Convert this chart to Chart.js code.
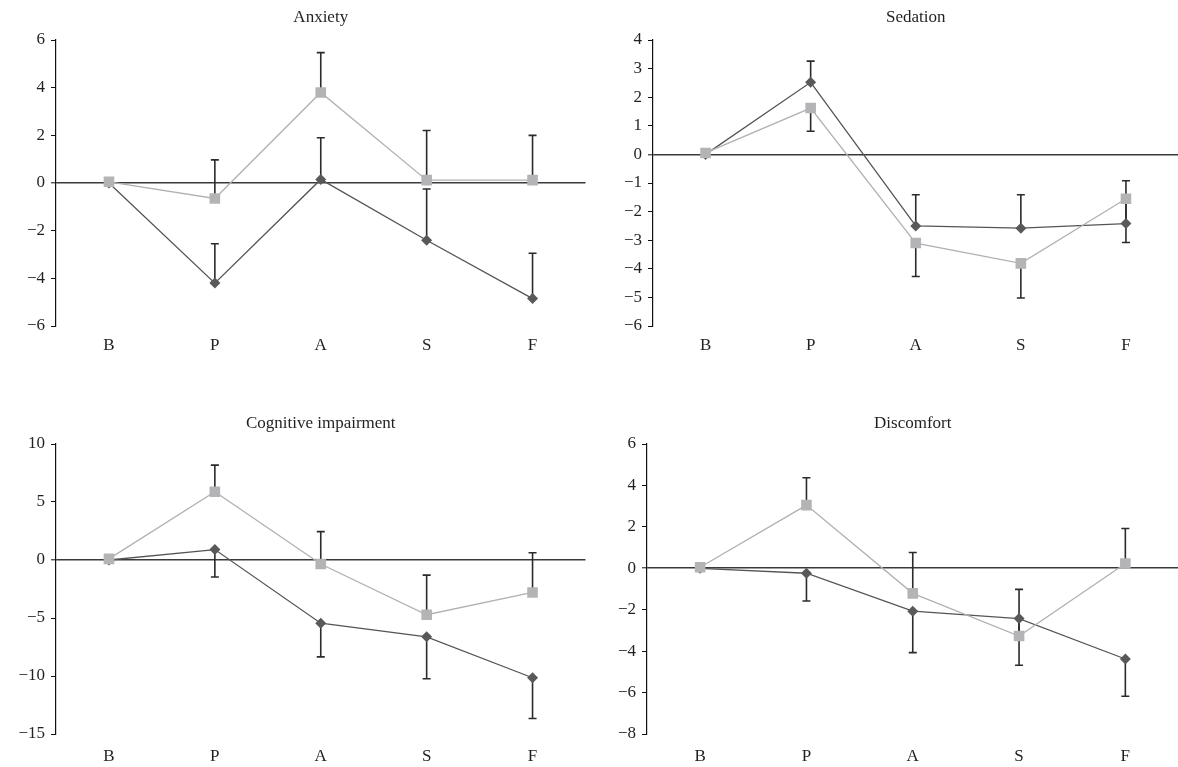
<!DOCTYPE html>
<html>
<head>
<meta charset="utf-8">
<script src="https://cdn.jsdelivr.net/npm/chart.js@4"></script>
<style>
	html, body { margin: 0; background: #fff; overflow: hidden; }
	.panel { position: absolute; }
</style>
</head>
<body>
<div class="panel" style="left:0;top:0;width:593px;height:383px"><canvas id="c1"></canvas></div>
<div class="panel" style="left:589px;top:0;width:597px;height:383px"><canvas id="c2"></canvas></div>
<div class="panel" style="left:0;top:383px;width:593px;height:384px"><canvas id="c3"></canvas></div>
<div class="panel" style="left:589px;top:383px;width:597px;height:384px"><canvas id="c4"></canvas></div>
<script>
const categories = ["B", "P", "A", "S", "F"];

const anxietyDark = [0, -4.2, 0.15, -2.4, -4.85];
const anxietyDarkErr = [0, 1.65, 1.75, 2.15, 1.9];
const anxietyLight = [0.05, -0.65, 3.8, 0.12, 0.12];
const anxietyLightErr = [0, 1.62, 1.67, 2.08, 1.88];

const sedationDark = [0, 2.52, -2.5, -2.58, -2.42];
const sedationDarkErr = [0, 0.74, 1.09, 1.17, 1.5];
const sedationLight = [0.05, 1.62, -3.1, -3.81, -1.55];
const sedationLightErr = [0, 0.81, 1.17, 1.21, 1.53];

const cognitiveDark = [0, 0.9, -5.45, -6.62, -10.15];
const cognitiveDarkErr = [0, 2.37, 2.9, 3.62, 3.52];
const cognitiveLight = [0.1, 5.88, -0.35, -4.72, -2.8];
const cognitiveLightErr = [0, 2.3, 2.8, 3.42, 3.43];

const discomfortDark = [0, -0.24, -2.07, -2.43, -4.38];
const discomfortDarkErr = [0, 1.34, 2.0, 2.25, 1.8];
const discomfortLight = [0.05, 3.05, -1.21, -3.27, 0.23];
const discomfortLightErr = [0, 1.32, 1.97, 2.25, 1.69];

const serif = "'Liberation Serif', 'DejaVu Serif', serif";
const textColor = "#231f20";

// error bars, one direction only, drawn under the markers
const errorBars = {
	id: "errorBars",
	beforeDatasetsDraw(chart) {
		const ctx = chart.ctx;
		const yScale = chart.scales.y;
		chart.data.datasets.forEach((ds, i) => {
			if (!ds.err) return;
			const meta = chart.getDatasetMeta(i);
			ctx.save();
			ctx.strokeStyle = "#2b2b2b";
			ctx.lineWidth = 1.6;
			meta.data.forEach((pt, j) => {
				const e = ds.err[j];
				if (!e) return;
				const y0 = yScale.getPixelForValue(ds.data[j]);
				const y1 = yScale.getPixelForValue(ds.data[j] + ds.errDir * e);
				ctx.beginPath();
				ctx.moveTo(pt.x, y0);
				ctx.lineTo(pt.x, y1);
				ctx.moveTo(pt.x - 4, y1);
				ctx.lineTo(pt.x + 4, y1);
				ctx.stroke();
			});
			ctx.restore();
		});
	},
};

function minus(v) {
	return v < 0 ? "\u2212" + Math.abs(v) : "" + v;
}

function makeChart(id, title, dark, darkErr, darkDir, light, lightErr, lightDir, yMin, yMax, step, yWidth, top) {
	const ctx = document.getElementById(id);
	const titlePad = top ? { top: 7, bottom: 12.6 } : { top: 30, bottom: 10.6 };
	const xHeight = top ? 57 : 33;
	const xPad = top ? 9 : 12;
	return new Chart(ctx, {
		type: "line",
		data: {
			labels: categories,
			datasets: [
				{
					data: light,
					err: lightErr,
					errDir: lightDir,
					borderColor: "#b1b1b1",
					backgroundColor: "#b4b4b7",
					borderWidth: 1.3,
					pointStyle: "rect",
					pointRadius: 7.5,
					pointBorderWidth: 0,
					tension: 0,
				},
				{
					data: dark,
					err: darkErr,
					errDir: darkDir,
					borderColor: "#555555",
					backgroundColor: "#595959",
					borderWidth: 1.3,
					pointStyle: "rectRot",
					pointRadius: 5.5,
					pointBorderWidth: 0,
					tension: 0,
				},
			],
		},
		options: {
			responsive: true,
			maintainAspectRatio: false,
			animation: false,
			events: [],
			layout: { padding: 0 },
			plugins: {
				legend: { display: false },
				tooltip: { enabled: false },
				title: {
					display: true,
					text: title,
					fullSize: false,
					color: textColor,
					font: { family: serif, size: 17, weight: "normal" },
					padding: titlePad,
				},
			},
			scales: {
				x: {
					offset: true,
					grid: { display: false, drawTicks: false },
					border: { display: false },
					ticks: {
						color: textColor,
						font: { family: serif, size: 17 },
						padding: xPad,
					},
					afterFit: (scale) => {
						scale.height = xHeight;
					},
				},
				y: {
					min: yMin,
					max: yMax,
					grid: {
						drawTicks: true,
						tickLength: 5,
						tickWidth: 1,
						tickColor: "#111",
						color: (c) => (c.tick && c.tick.value === 0 ? "#3a3a3a" : "rgba(0,0,0,0)"),
						lineWidth: (c) => (c.tick && c.tick.value === 0 ? 1.6 : 1),
					},
					border: { display: true, color: "#111", width: 1.2 },
					ticks: {
						stepSize: step,
						color: textColor,
						font: { family: serif, size: 17 },
						padding: 6,
						callback: (v) => minus(v),
					},
					afterFit: (scale) => {
						scale.width = yWidth;
					},
				},
			},
		},
		plugins: [errorBars],
	});
}

makeChart("c1", "Anxiety", anxietyDark, anxietyDarkErr, 1, anxietyLight, anxietyLightErr, 1, -6, 6, 2, 56, true);
makeChart("c2", "Sedation", sedationDark, sedationDarkErr, 1, sedationLight, sedationLightErr, -1, -6, 4, 1, 64, true);
makeChart("c3", "Cognitive impairment", cognitiveDark, cognitiveDarkErr, -1, cognitiveLight, cognitiveLightErr, 1, -15, 10, 5, 56, false);
makeChart("c4", "Discomfort", discomfortDark, discomfortDarkErr, -1, discomfortLight, discomfortLightErr, 1, -8, 6, 2, 58, false);
</script>
</body>
</html>
